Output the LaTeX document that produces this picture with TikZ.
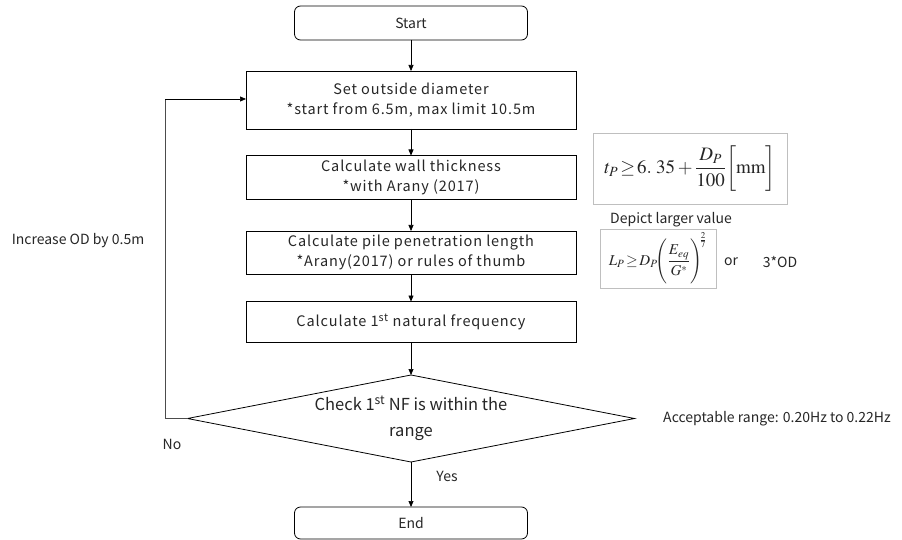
\documentclass[tikz,border=0pt]{standalone}
\usepackage{amsmath}
\usepackage{mathptmx}
\usepackage[no-math]{fontspec}
\setmainfont{Noto Sans CJK JP}
\newfontfamily\widefont[LetterSpace=6]{Noto Sans CJK JP}
\usetikzlibrary{shapes.geometric,arrows.meta}
\begin{document}
\begin{tikzpicture}[x=1pt,y=-1pt,
  every node/.style={inner sep=0pt, outer sep=0pt, text=black!85},
  procbox/.style={draw, line width=0.8pt, minimum width=330pt, align=center, font=\widefont\fontsize{14.5}{19.5}\selectfont},
  termbox/.style={draw, line width=0.8pt, rounded corners=6pt, minimum width=233pt, font=\fontsize{14}{18}\selectfont},
  decbox/.style={draw, line width=0.8pt, diamond, shape aspect=5, minimum width=447pt, minimum height=87pt, align=center, font=\fontsize{16.5}{26}\selectfont},
  fbox/.style={draw=black!25, line width=0.8pt},
  lbl/.style={font=\fontsize{14}{16}\selectfont},
  arr/.style={-{Triangle[length=6pt,width=5pt]}, line width=0.7pt},
  loopline/.style={line width=0.7pt, draw=black!70}
]
\useasboundingbox (0,0) rectangle (902,540);

\node[termbox, minimum height=34pt] (start) at (411,23) {Start};
\node[procbox, minimum height=58pt] (setod) at (411,100) {Set outside diameter\\*start from 6.5m, max limit 10.5m};
\node[procbox, minimum height=44pt] (wall) at (411,177.5) {Calculate wall thickness\\*with Arany (2017)};
\node[procbox, minimum height=43pt] (pile) at (411,252.5) {Calculate pile penetration length\\*Arany(2017) or rules of thumb};
\node[procbox, minimum height=41pt] (freq) at (411,322) {Calculate 1\textsuperscript{st} natural frequency};
\node[decbox] (check) at (411,418.5) {Check 1\textsuperscript{st} NF is within the\\range};
\node[termbox, minimum height=32pt] (endn) at (411,523) {End};

\draw[arr] (start) -- (setod);
\draw[arr] (setod) -- (wall);
\draw[arr] (wall) -- (pile);
\draw[arr] (pile) -- (freq);
\draw[arr] (freq) -- (check);
\draw[arr] (check) -- (endn);

\coordinate (lb) at (165,418.5);
\coordinate (lt) at (165,99);
\draw[loopline] (check.west) -- (lb) -- (lt);
\draw[arr] (lt) -- (setod.west |- lt);

\node[lbl] (inc) at (78,241) {Increase OD by 0.5m};
\node[lbl] (no) at (172,444) {No};
\node[lbl] (yes) at (447,476) {Yes};
\node[lbl] (acc) at (777,419) {Acceptable range: 0.20Hz to 0.22Hz};

\node[fbox, minimum width=194pt, minimum height=71pt] (f1) at (690,168.5) {\fontsize{19}{23}\selectfont $t_P\!\geq\! 6.\ 35+\dfrac{D_P}{100}\!\left[\vphantom{\dfrac{D_P}{100}}\mathrm{mm}\right]$};
\node[lbl] (dep) at (671,220) {Depict larger value};
\node[fbox, minimum width=116pt, minimum height=59pt] (f2) at (658,258.5) {\fontsize{15}{18}\selectfont $L_P\!\geq\! D_P\!\Biggl(\dfrac{E_{eq}}{G^*}\Biggr)^{\!\!\frac{2}{7}}$};
\node[lbl] (orl) at (731,262) {or};
\node[lbl] (od3) at (780,262) {3*OD};
\end{tikzpicture}
\end{document}
